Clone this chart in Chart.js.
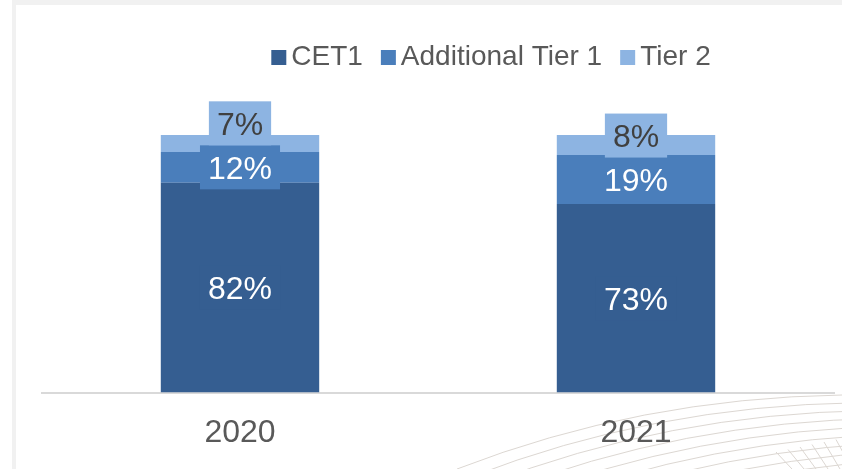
<!DOCTYPE html>
<html>
<head>
<meta charset="utf-8">
<script src="https://cdn.jsdelivr.net/npm/chart.js@4/dist/chart.umd.min.js"></script>
<style>
  html, body { margin: 0; padding: 0; background: #fff; }
  #wrap { width: 842px; height: 469px; position: relative; }
</style>
</head>
<body>
<div id="wrap"><canvas id="chart"></canvas></div>
<script>
// data (shares in %, labels are rounded)
const years = ['2020', '2021'];
const cet1 = [81.5, 73.2];
const at1 = [11.9, 19.0];
const tier2 = [6.6, 7.8];

const seriesNames = ['CET1', 'Additional Tier 1', 'Tier 2'];
const seriesColors = ['#355e91', '#4a7ebb', '#8db4e2'];
const labelColors = ['#ffffff', '#ffffff', '#404040'];

const FONT = '"Liberation Sans", Arial, sans-serif';

// grey frame + the faint line pattern in the lower right corner
const backdrop = {
  id: 'backdrop',
  beforeDraw(chart) {
    const ctx = chart.ctx;
    ctx.save();
    ctx.fillStyle = '#fff';
    ctx.fillRect(0, 0, chart.width, chart.height);
    ctx.fillStyle = '#f1f1f1';
    ctx.fillRect(12, 0, chart.width - 12, 5);
    ctx.fillRect(12, 0, 4, chart.height);

    ctx.strokeStyle = '#dcd7d2';
    ctx.lineWidth = 1;
    for (let i = 0; i < 10; i++) {
      const dx = i * 14, dy = i * 7.8;
      ctx.beginPath();
      ctx.moveTo(457 + dx, 469 + dy);
      ctx.quadraticCurveTo(640 + dx, 398 + dy, 842 + dx, 395 + dy);
      ctx.stroke();
    }
    for (let k = 0; k < 6; k++) {
      ctx.beginPath();
      ctx.moveTo(776 + k * 12, 452 - k * 2.5);
      ctx.lineTo(792 + k * 12, 469);
      ctx.stroke();
    }
    ctx.restore();
  }
};

// value boxes; a box that would run into the one below is pushed up
const valueLabels = {
  id: 'valueLabels',
  afterDatasetsDraw(chart) {
    const ctx = chart.ctx;
    const fontSize = 32, boxH = 44, padX = 8;
    ctx.save();
    ctx.font = fontSize + 'px ' + FONT;
    ctx.textAlign = 'center';
    ctx.textBaseline = 'alphabetic';
    years.forEach((y, j) => {
      let prevTop = Infinity;
      chart.data.datasets.forEach((ds, i) => {
        const bar = chart.getDatasetMeta(i).data[j];
        const text = Math.round(ds.data[j]) + '%';
        let cy = (bar.y + bar.base) / 2;
        if (cy + boxH / 2 > prevTop) cy = prevTop - boxH / 2;
        prevTop = cy - boxH / 2;
        const w = ctx.measureText(text).width + padX * 2;
        ctx.fillStyle = ds.backgroundColor;
        ctx.fillRect(bar.x - w / 2, cy - boxH / 2, w, boxH);
        ctx.fillStyle = labelColors[i];
        ctx.fillText(text, bar.x, cy + fontSize * 0.358);
      });
    });
    ctx.restore();
  }
};

// legend drawn by hand to get Excel-like spacing
const topLegend = {
  id: 'topLegend',
  afterDraw(chart) {
    const ctx = chart.ctx;
    const fontSize = 28, box = 15, gap = 5, itemGap = 18;
    ctx.save();
    ctx.font = fontSize + 'px ' + FONT;
    ctx.textBaseline = 'alphabetic';
    const items = chart.data.datasets.map(ds => ({
      text: ds.label, color: ds.backgroundColor, w: ctx.measureText(ds.label).width
    }));
    const total = items.reduce((a, it) => a + box + gap + it.w, 0) + itemGap * (items.length - 1);
    let x = 491 - total / 2;
    items.forEach(it => {
      ctx.fillStyle = it.color;
      ctx.fillRect(x, 50, box, box);
      ctx.fillStyle = '#595959';
      ctx.fillText(it.text, x + box + gap, 65);
      x += box + gap + it.w + itemGap;
    });
    ctx.restore();
  }
};

new Chart(document.getElementById('chart'), {
  type: 'bar',
  data: {
    labels: years,
    datasets: [
      { label: seriesNames[0], data: cet1, backgroundColor: seriesColors[0] },
      { label: seriesNames[1], data: at1, backgroundColor: seriesColors[1] },
      { label: seriesNames[2], data: tier2, backgroundColor: seriesColors[2] }
    ]
  },
  options: {
    responsive: true,
    maintainAspectRatio: false,
    animation: false,
    layout: { padding: { left: 42, right: 8, top: 135, bottom: -4 } },
    datasets: { bar: { barPercentage: 0.4, categoryPercentage: 1, borderWidth: 0 } },
    scales: {
      x: {
        stacked: true,
        grid: { display: false, drawTicks: false },
        border: { display: true, color: '#d9d9d9', width: 2 },
        ticks: { color: '#595959', padding: 21, font: { family: FONT, size: 32, lineHeight: 1.2 } }
      },
      y: { stacked: true, display: false, min: 0, max: 100 }
    },
    plugins: { legend: { display: false }, tooltip: { enabled: false } }
  },
  plugins: [backdrop, valueLabels, topLegend]
});
</script>
</body>
</html>
